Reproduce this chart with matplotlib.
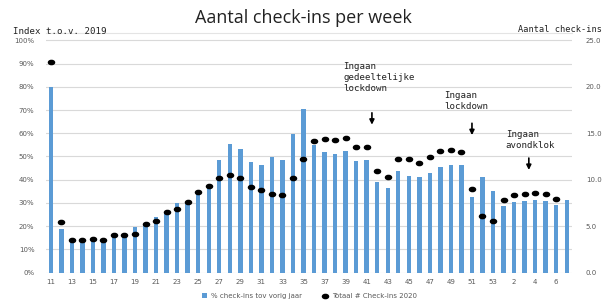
import numpy as np
import matplotlib
matplotlib.use("Agg")
import matplotlib.pyplot as plt
from matplotlib.path import Path
from matplotlib.transforms import Affine2D

# weken: 11..53 van 2020, daarna 1..7 van 2021
weeks = list(range(11, 54)) + list(range(1, 8))

# % check-ins t.o.v. vorig jaar (linker as)
pct_vorig_jaar = [80, 18.7, 13.5, 13.5, 14, 13.5, 15.5, 15.5, 19.7, 21,
                  24, 26, 29.8, 30.5, 34.5, 37, 48.5, 55.3, 53.2, 47.6,
                  46.5, 49.8, 48.6, 59.8, 70.6, 55, 51.9, 51.1, 52.4, 48.2,
                  48.3, 38.9, 36.6, 43.6, 41.7, 41, 42.9, 45.6, 46.5, 46.2,
                  32.4, 41.2, 35, 28.7, 30.4, 30.9, 31.2, 30.9, 29.1, 31.1]

# totaal aantal check-ins 2020 (rechter as, mln)
totaal_checkins = [22.7, 5.45, 3.5, 3.5, 3.6, 3.45, 4.0, 4.0, 4.1, 5.25,
                   5.5, 6.5, 6.8, 7.6, 8.7, 9.3, 10.2, 10.5, 10.2, 9.2,
                   8.85, 8.5, 8.3, 10.2, 12.2, 14.2, 14.4, 14.3, 14.5, 13.5,
                   13.5, 10.9, 10.3, 12.2, 12.2, 11.8, 12.4, 13.1, 13.2, 13.0,
                   9.0, 6.1, 5.6, 7.8, 8.3, 8.5, 8.6, 8.5, 7.9, np.nan]

# annotaties: (tekst, x tekst, y tekst, x pijl, y begin pijl, y eind pijl)
notes = [("Ingaan\ngedeeltelijke\nlockdown", 27.8, 90.5, 30.5, 70, 62.5),
         ("Ingaan\nlockdown", 37.4, 78, 40, 65.5, 58),
         ("Ingaan\navondklok", 43.2, 61.5, 45.4, 50.5, 43)]

blue = "#5b9bd5"
grey = "#595959"

fig = plt.figure(figsize=(6.04, 3.05), dpi=100)
ax = fig.add_axes([45.5 / 604, 1 - 272.5 / 305, (572 - 45.5) / 604, (272.5 - 33) / 305])

x = np.arange(len(weeks))
ax.bar(x, pct_vorig_jaar, width=0.42, color=blue, zorder=2,
       label="% check-ins tov vorig jaar")
ax.set_ylim(0, 103.2)
ax.set_xlim(-0.5, len(weeks) - 0.5)
ax.set_yticks(np.arange(0, 101, 10))
ax.set_yticklabels([f"{v}%" for v in range(0, 101, 10)])
ax.grid(axis="y", color="#d9d9d9", lw=0.8, zorder=0)
ax.set_axisbelow(True)

ax.set_xticks(x[::2])
ax.set_xticklabels([str(w) for w in weeks[::2]])
ax.tick_params(axis="both", length=0, labelsize=5, labelcolor=grey)
ax.tick_params(axis="y", pad=8)
ax.tick_params(axis="x", pad=5)
for s in ["left", "right", "bottom"]:
    ax.spines[s].set_visible(False)
ax.spines["top"].set_color("#e4e4e4")
ax.spines["top"].set_linewidth(0.8)

# rechter as voor de stippen
ax2 = ax.twinx()
ax2.set_ylim(0, 25.8)
ax2.set_yticks(np.arange(0, 26, 5))
ax2.set_yticklabels([f"{v:.1f}" for v in range(0, 26, 5)])
ax2.tick_params(axis="y", length=0, labelsize=5, labelcolor=grey, pad=10)
for s in ax2.spines.values():
    s.set_visible(False)

ellipse = Path.unit_circle().transformed(Affine2D().scale(1.45, 1.0))
ax2.plot(x, totaal_checkins, ls="none", marker=ellipse, ms=4.4,
         color="black", zorder=3, label="Totaal # Check-ins 2020")

mono = "DejaVu Sans Mono"
for txt, tx, ty, px, y0, y1 in notes:
    ax.text(tx, ty, txt, fontsize=6.6, family=mono, va="top", ha="left",
            linespacing=1.25, color="#222222")
    ax.annotate("", xy=(px, y1), xytext=(px, y0),
                arrowprops=dict(arrowstyle="-|>", color="black", lw=1.2,
                                mutation_scale=7))

fig.text(0.503, 0.94, "Aantal check-ins per week", fontsize=13,
         family="Open Sans", ha="center", va="center", color="#222222")
fig.text(13 / 604, 1 - 32 / 305, "Index t.o.v. 2019", fontsize=6.6,
         family=mono, va="center", color="#222222")
fig.text(602 / 604, 1 - 29 / 305, "Aantal check-ins", fontsize=6.2,
         family=mono, va="center", ha="right", color="#222222")

h1, l1 = ax.get_legend_handles_labels()
h2, l2 = ax2.get_legend_handles_labels()
fig.legend(h1 + h2, l1 + l2, loc="center", bbox_to_anchor=(0.512, 1 - 296 / 305),
           ncol=2, frameon=False, fontsize=5, labelcolor=grey,
           handlelength=0.8, handleheight=0.6, columnspacing=3, handletextpad=0.5)

fig.savefig("out.png", dpi=100)
